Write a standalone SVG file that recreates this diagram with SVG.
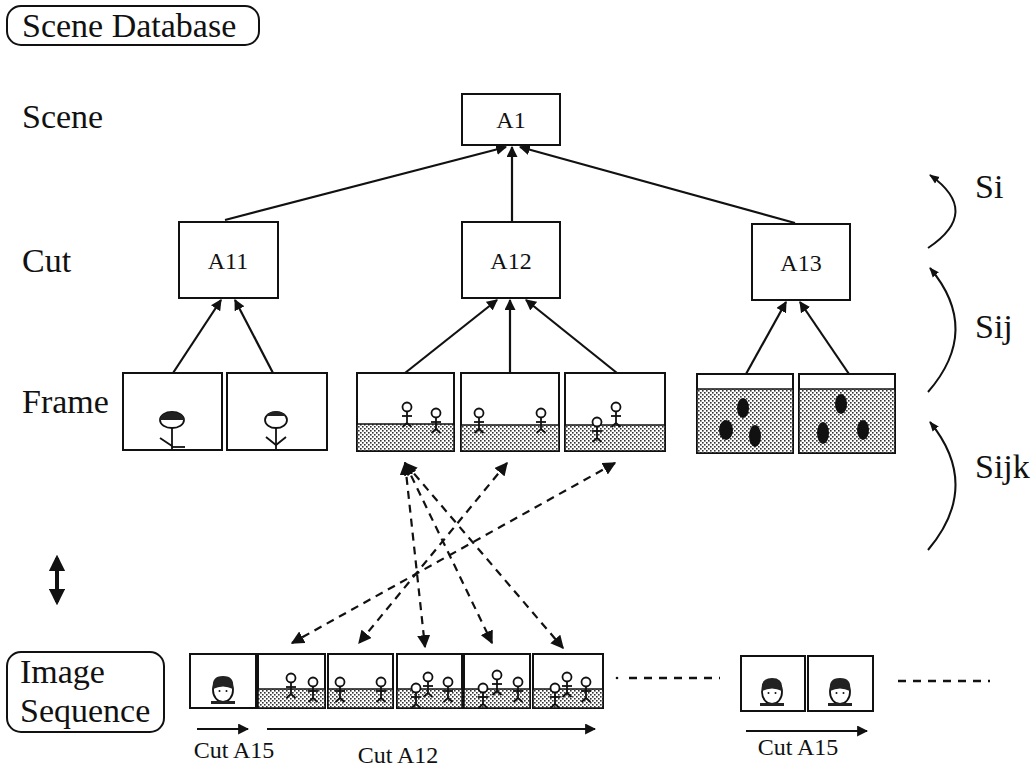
<svg xmlns="http://www.w3.org/2000/svg" width="1036" height="774" viewBox="0 0 1036 774">
  <style>
    .lbl { font-family: "Liberation Serif", "Times New Roman", serif; font-size: 34px; fill: #111; }
    .node-text { font-family: "Liberation Serif", "Times New Roman", serif; font-size: 24px; fill: #111; text-anchor: middle; }
    .cut-text { font-family: "Liberation Serif", "Times New Roman", serif; font-size: 24px; fill: #111; text-anchor: middle; }
    .box { fill: #fff; stroke: #111; stroke-width: 2; }
    .frame { fill: #fff; stroke: #111; stroke-width: 2; }
    .ground { fill: url(#dots); stroke: #111; stroke-width: 1.5; }
    .tree { stroke: #111; stroke-width: 2.2; fill: none; marker-end: url(#head); }
    .link { stroke: #111; stroke-width: 2.2; fill: none; stroke-dasharray: 8 6; marker-start: url(#dhead); marker-end: url(#dhead); }
    .stick { stroke: #111; stroke-width: 1.8; fill: none; }
    .curve { stroke: #111; stroke-width: 2; fill: none; marker-end: url(#small); }
    .dash { stroke: #111; stroke-width: 2.5; stroke-dasharray: 8 7; }
  </style>
  <defs>
    <pattern id="dots" width="4" height="4" patternUnits="userSpaceOnUse">
      <rect width="4" height="4" fill="#fff"/>
      <rect x="0" y="0" width="1.6" height="1.6" fill="#333"/>
      <rect x="2" y="2" width="1.6" height="1.6" fill="#333"/>
    </pattern>
    <marker id="head" viewBox="0 0 10 10" refX="9" refY="5" markerWidth="5" markerHeight="5" orient="auto" markerUnits="strokeWidth">
      <path d="M0,0 L10,5 L0,10 Z" fill="#111"/>
    </marker>
    <marker id="dhead" viewBox="0 0 10 10" refX="9" refY="5" markerWidth="6" markerHeight="6" orient="auto-start-reverse" markerUnits="strokeWidth">
      <path d="M0,0 L10,5 L0,10 Z" fill="#111"/>
    </marker>
    <marker id="small" viewBox="0 0 10 10" refX="9" refY="5" markerWidth="5" markerHeight="5" orient="auto" markerUnits="strokeWidth">
      <path d="M0,1 L10,5 L0,9 Z" fill="#111"/>
    </marker>
    <marker id="big" viewBox="0 0 10 10" refX="8" refY="5" markerWidth="4.2" markerHeight="4.2" orient="auto-start-reverse" markerUnits="strokeWidth">
      <path d="M0,0 L10,5 L0,10 Z" fill="#111"/>
    </marker>
    <!-- small standing figure, origin at head centre -->
    <g id="fig" class="stick">
      <circle cx="0" cy="0" r="4.5" fill="#fff"/>
      <line x1="0" y1="4.5" x2="0" y2="16"/>
      <line x1="-5" y1="9" x2="5" y2="9"/>
      <line x1="0" y1="16" x2="-4.5" y2="20"/>
      <line x1="0" y1="16" x2="4.5" y2="20"/>
    </g>
    <!-- head-and-shoulders close-up, origin at face centre -->
    <g id="face">
      <ellipse cx="0" cy="0" rx="10" ry="12" fill="#fff" stroke="#111" stroke-width="1.8"/>
      <path d="M-10,-1 Q-12,-14 0,-14 Q12,-14 10,-1 Q0,-6 -10,-1 Z" fill="#222"/>
      <circle cx="-3.5" cy="1" r="1" fill="#111"/>
      <circle cx="3.5" cy="1" r="1" fill="#111"/>
      <rect x="-12" y="11" width="24" height="3" fill="#222"/>
    </g>
  </defs>

  <!-- headings -->
  <g id="scene-database">
    <rect x="7" y="6" width="252" height="39" rx="14" class="box"/>
    <text x="22" y="37" class="lbl">Scene Database</text>
  </g>
  <text x="22" y="128" class="lbl">Scene</text>
  <text x="22" y="272" class="lbl">Cut</text>
  <text x="22" y="413" class="lbl">Frame</text>

  <!-- connectors -->
  <g id="connectors">
    <line x1="225" y1="220" x2="506" y2="147" class="tree"/>
    <line x1="512" y1="222" x2="512" y2="147" class="tree"/>
    <line x1="795" y1="223" x2="520" y2="147" class="tree"/>

    <line x1="173" y1="373" x2="221" y2="300" class="tree"/>
    <line x1="273" y1="373" x2="235" y2="300" class="tree"/>
    <line x1="405" y1="373" x2="497" y2="300" class="tree"/>
    <line x1="510" y1="373" x2="510" y2="300" class="tree"/>
    <line x1="617" y1="373" x2="526" y2="300" class="tree"/>
    <line x1="746" y1="374" x2="786" y2="302" class="tree"/>
    <line x1="849" y1="374" x2="800" y2="302" class="tree"/>

    <line x1="405" y1="463" x2="425" y2="647" class="link"/>
    <line x1="405" y1="463" x2="492" y2="643" class="link"/>
    <line x1="405" y1="463" x2="563" y2="648" class="link"/>
    <line x1="507" y1="463" x2="359" y2="643" class="link"/>
    <line x1="615" y1="463" x2="292" y2="643" class="link"/>

    <path d="M928,248 Q982,212 930,175" class="curve"/>
    <path d="M928,392 Q982,330 930,268" class="curve"/>
    <path d="M928,550 Q982,486 930,422" class="curve"/>

    <line x1="57" y1="558" x2="57" y2="602" stroke="#111" stroke-width="4" marker-start="url(#big)" marker-end="url(#big)"/>
  </g>

  <text x="975" y="198" class="lbl">Si</text>
  <text x="975" y="338" class="lbl">Sij</text>
  <text x="975" y="478" class="lbl">Sijk</text>

  <!-- tree nodes -->
  <g id="node-A1">
    <rect x="462" y="94" width="98" height="51" class="box"/>
    <text x="511" y="128" class="node-text">A1</text>
  </g>
  <g id="node-A11">
    <rect x="179" y="222" width="99" height="76" class="box"/>
    <text x="228" y="269" class="node-text">A11</text>
  </g>
  <g id="node-A12">
    <rect x="462" y="222" width="98" height="76" class="box"/>
    <text x="511" y="269" class="node-text">A12</text>
  </g>
  <g id="node-A13">
    <rect x="752" y="224" width="98" height="76" class="box"/>
    <text x="801" y="271" class="node-text">A13</text>
  </g>

  <!-- frames of cut A11 -->
  <g id="frame-1">
    <rect x="123" y="373" width="99" height="77" class="frame"/>
    <ellipse cx="172" cy="420" rx="12" ry="8" fill="#fff" stroke="#111" stroke-width="1.8"/>
    <path d="M160,420 A12,8 0 0 1 184,420 Z" fill="#222"/>
    <line x1="172" y1="428" x2="172" y2="449" class="stick"/>
    <line x1="160" y1="438" x2="172" y2="446" class="stick"/>
    <line x1="172" y1="447" x2="185" y2="447" class="stick"/>
  </g>
  <g id="frame-2">
    <rect x="227" y="373" width="100" height="77" class="frame"/>
    <ellipse cx="276" cy="420" rx="11" ry="8" fill="#fff" stroke="#111" stroke-width="1.8"/>
    <path d="M266,416 A11,8 0 0 1 286,416 Z" fill="#222"/>
    <line x1="276" y1="428" x2="276" y2="450" class="stick"/>
    <polyline points="266,437 276,445 286,437" class="stick"/>
  </g>

  <!-- frames of cut A12 -->
  <g id="frame-3">
    <rect x="357" y="373" width="97" height="78" class="frame"/>
    <rect x="357" y="424" width="97" height="27" class="ground"/>
    <use href="#fig" x="407" y="407"/>
    <use href="#fig" x="436" y="413"/>
  </g>
  <g id="frame-4">
    <rect x="461" y="373" width="98" height="78" class="frame"/>
    <rect x="461" y="425" width="98" height="26" class="ground"/>
    <use href="#fig" x="479" y="413"/>
    <use href="#fig" x="541" y="413"/>
  </g>
  <g id="frame-5">
    <rect x="565" y="373" width="100" height="78" class="frame"/>
    <rect x="565" y="425" width="100" height="26" class="ground"/>
    <use href="#fig" x="597" y="422"/>
    <use href="#fig" x="616" y="407"/>
  </g>

  <!-- frames of cut A13 -->
  <g id="frame-6">
    <rect x="697" y="374" width="96" height="79" class="frame"/>
    <rect x="697" y="389" width="96" height="64" class="ground"/>
    <ellipse cx="743" cy="408" rx="6" ry="10" fill="#111"/>
    <ellipse cx="726" cy="430" rx="7" ry="10" fill="#111"/>
    <ellipse cx="755" cy="436" rx="6" ry="11" fill="#111"/>
  </g>
  <g id="frame-7">
    <rect x="799" y="374" width="96" height="79" class="frame"/>
    <rect x="799" y="389" width="96" height="64" class="ground"/>
    <ellipse cx="841" cy="404" rx="6" ry="10" fill="#111"/>
    <ellipse cx="823" cy="433" rx="6" ry="11" fill="#111"/>
    <ellipse cx="863" cy="430" rx="6" ry="10" fill="#111"/>
  </g>

  <!-- image sequence -->
  <g id="image-sequence">
    <rect x="7" y="652" width="157" height="80" rx="14" class="box"/>
    <text x="20" y="683" class="lbl">Image</text>
    <text x="20" y="722" class="lbl">Sequence</text>
  </g>

  <g id="seq-1">
    <rect x="190" y="654" width="66" height="54" class="frame"/>
    <use href="#face" x="223" y="690"/>
  </g>
  <g id="seq-2">
    <rect x="258" y="654" width="67" height="54" class="frame"/>
    <rect x="258" y="689" width="67" height="19" class="ground"/>
    <use href="#fig" x="291" y="678"/>
    <use href="#fig" x="313" y="682"/>
  </g>
  <g id="seq-3">
    <rect x="328" y="654" width="65" height="54" class="frame"/>
    <rect x="328" y="689" width="65" height="19" class="ground"/>
    <use href="#fig" x="340" y="682"/>
    <use href="#fig" x="381" y="682"/>
  </g>
  <g id="seq-4">
    <rect x="397" y="654" width="65" height="54" class="frame"/>
    <rect x="397" y="689" width="65" height="19" class="ground"/>
    <use href="#fig" x="416" y="688"/>
    <use href="#fig" x="428" y="677"/>
    <use href="#fig" x="448" y="682"/>
  </g>
  <g id="seq-5">
    <rect x="464" y="654" width="66" height="54" class="frame"/>
    <rect x="464" y="689" width="66" height="19" class="ground"/>
    <use href="#fig" x="483" y="688"/>
    <use href="#fig" x="497" y="675"/>
    <use href="#fig" x="518" y="682"/>
  </g>
  <g id="seq-6">
    <rect x="533" y="654" width="70" height="54" class="frame"/>
    <rect x="533" y="689" width="70" height="19" class="ground"/>
    <use href="#fig" x="555" y="688"/>
    <use href="#fig" x="567" y="677"/>
    <use href="#fig" x="586" y="682"/>
  </g>

  <circle cx="617" cy="678" r="1.3" fill="#111"/>
  <line x1="629" y1="678" x2="720" y2="678" class="dash"/>

  <g id="seq-7">
    <rect x="741" y="656" width="64" height="55" class="frame"/>
    <use href="#face" x="772" y="692"/>
  </g>
  <g id="seq-8">
    <rect x="808" y="656" width="65" height="55" class="frame"/>
    <use href="#face" x="840" y="692"/>
  </g>

  <line x1="898" y1="681" x2="990" y2="681" class="dash"/>

  <!-- cut extents -->
  <g id="cut-spans">
    <line x1="197" y1="729" x2="248" y2="729" class="tree"/>
    <line x1="267" y1="729" x2="595" y2="729" class="tree"/>
    <line x1="746" y1="731" x2="867" y2="731" class="tree"/>
    <text x="234" y="758" class="cut-text">Cut A15</text>
    <text x="398" y="763" class="cut-text">Cut A12</text>
    <text x="798" y="755" class="cut-text">Cut A15</text>
  </g>
</svg>
